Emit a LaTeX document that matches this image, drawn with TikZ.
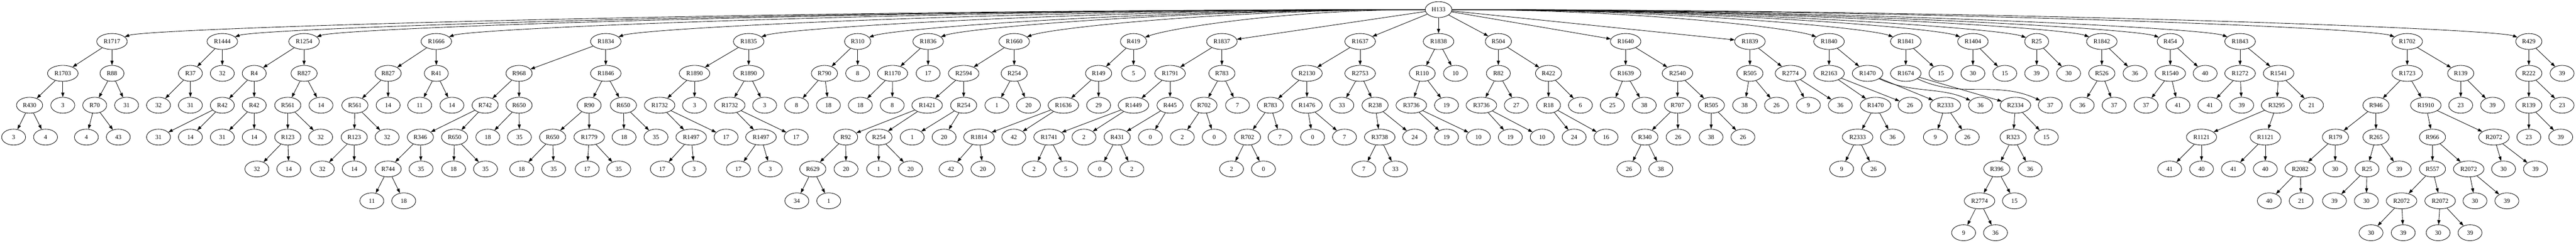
\documentclass[tikz,border=0pt]{standalone}
\usepackage{fontspec}
\setmainfont{Liberation Serif}
\usetikzlibrary{shapes.geometric,arrows.meta}

\tikzset{
  el/.style={draw, ellipse, line width=1pt, minimum width=54pt, minimum height=36pt,
    inner xsep=5.7pt, inner ysep=0pt, font=\fontsize{14pt}{16pt}\selectfont},
  arr/.style={-{Triangle[length=10pt,width=7pt]}, line width=1pt}
}

\begin{document}
\begin{tikzpicture}[x=0.75pt, y=72pt]
  \useasboundingbox (0,0.301) rectangle (7752,-7.314);

  % Wurzel
  \node[el] (h133) at (4329,0) {H133};

  % R1717
  \node[el] (r1717) at (337,-1) {R1717};
  \node[el] (r1703) at (189,-2) {R1703};
  \node[el] (r88) at (337,-2) {R88};
  \node[el] (r430) at (89,-3) {R430};
  \node[el] (r1703r) at (189,-3) {3};
  \node[el] (r70) at (285,-3) {R70};
  \node[el] (r88r) at (381,-3) {31};
  \node[el] (r430l) at (41,-4) {3};
  \node[el] (r430r) at (137,-4) {4};
  \node[el] (r70l) at (260,-4) {4};
  \node[el] (r70r) at (356,-4) {43};
  \path[arr] (r1717) edge (r1703) edge (r88)
    (r1703) edge (r430) edge (r1703r)
    (r88) edge (r70) edge (r88r)
    (r430) edge (r430l) edge (r430r)
    (r70) edge (r70l) edge (r70r);

  % R1444
  \node[el] (r1444) at (669,-1) {R1444};
  \node[el] (r37) at (573,-2) {R37};
  \node[el] (r1444r) at (669,-2) {32};
  \node[el] (r37l) at (477,-3) {32};
  \node[el] (r37r) at (573,-3) {31};
  \path[arr] (r1444) edge (r37) edge (r1444r)
    (r37) edge (r37l) edge (r37r);

  % R1254
  \node[el] (r1254) at (915,-1) {R1254};
  \node[el] (r4) at (765,-2) {R4};
  \node[el] (r827a) at (915,-2) {R827};
  \node[el] (r42a) at (669,-3) {R42};
  \node[el] (r42b) at (765,-3) {R42};
  \node[el] (r561a) at (866,-3) {R561};
  \node[el] (r827ar) at (966,-3) {14};
  \node[el] (r42al) at (477,-4) {31};
  \node[el] (r42ar) at (573,-4) {14};
  \node[el] (r42bl) at (669,-4) {31};
  \node[el] (r42br) at (765,-4) {14};
  \node[el] (r123a) at (866,-4) {R123};
  \node[el] (r561ar) at (965,-4) {32};
  \node[el] (r123al) at (773,-5) {32};
  \node[el] (r123ar) at (869,-5) {14};
  \path[arr] (r1254) edge (r4) edge (r827a)
    (r4) edge (r42a) edge (r42b)
    (r827a) edge (r561a) edge (r827ar)
    (r42a) edge (r42al) edge (r42ar)
    (r42b) edge (r42bl) edge (r42br)
    (r561a) edge (r123a) edge (r561ar)
    (r123a) edge (r123al) edge (r123ar);

  % R1666
  \node[el] (r1666) at (1313,-1) {R1666};
  \node[el] (r827b) at (1168,-2) {R827};
  \node[el] (r41) at (1313,-2) {R41};
  \node[el] (r561b) at (1068,-3) {R561};
  \node[el] (r827br) at (1168,-3) {14};
  \node[el] (r41l) at (1263,-3) {11};
  \node[el] (r41r) at (1360,-3) {14};
  \node[el] (r123b) at (1066,-4) {R123};
  \node[el] (r561br) at (1165,-4) {32};
  \node[el] (r123bl) at (970,-5) {32};
  \node[el] (r123br) at (1066,-5) {14};
  \path[arr] (r1666) edge (r827b) edge (r41)
    (r827b) edge (r561b) edge (r827br)
    (r41) edge (r41l) edge (r41r)
    (r561b) edge (r123b) edge (r561br)
    (r123b) edge (r123bl) edge (r123br);

  % R1834
  \node[el] (r1834) at (1823,-1) {R1834};
  \node[el] (r968) at (1562,-2) {R968};
  \node[el] (r1846) at (1823,-2) {R1846};
  \node[el] (r742) at (1460,-3) {R742};
  \node[el] (r650a) at (1562,-3) {R650};
  \node[el] (r90) at (1773,-3) {R90};
  \node[el] (r650c) at (1876,-3) {R650};
  \node[el] (r346) at (1265,-4) {R346};
  \node[el] (r650b) at (1368,-4) {R650};
  \node[el] (r650al) at (1468,-4) {18};
  \node[el] (r650ar) at (1563,-4) {35};
  \node[el] (r650d) at (1663,-4) {R650};
  \node[el] (r1779) at (1773,-4) {R1779};
  \node[el] (r650cl) at (1878,-4) {18};
  \node[el] (r650cr) at (1974,-4) {35};
  \node[el] (r744) at (1168,-5) {R744};
  \node[el] (r346r) at (1267,-5) {35};
  \node[el] (r650bl) at (1365,-5) {18};
  \node[el] (r650br) at (1461,-5) {35};
  \node[el] (r650dl) at (1570,-5) {18};
  \node[el] (r650dr) at (1666,-5) {35};
  \node[el] (r1779l) at (1767,-5) {17};
  \node[el] (r1779r) at (1862,-5) {35};
  \node[el] (r744l) at (1119,-6) {11};
  \node[el] (r744r) at (1215,-6) {18};
  \path[arr] (r1834) edge (r968) edge (r1846)
    (r968) edge (r742) edge (r650a)
    (r1846) edge (r90) edge (r650c)
    (r742) edge (r346) edge (r650b)
    (r650a) edge (r650al) edge (r650ar)
    (r90) edge (r650d) edge (r1779)
    (r650c) edge (r650cl) edge (r650cr)
    (r346) edge (r744) edge (r346r)
    (r650b) edge (r650bl) edge (r650br)
    (r650d) edge (r650dl) edge (r650dr)
    (r1779) edge (r1779l) edge (r1779r)
    (r744) edge (r744l) edge (r744r);

  % R1835
  \node[el] (r1835) at (2253,-1) {R1835};
  \node[el] (r1890a) at (2090,-2) {R1890};
  \node[el] (r1890b) at (2253,-2) {R1890};
  \node[el] (r1732a) at (1985,-3) {R1732};
  \node[el] (r1890ar) at (2090,-3) {3};
  \node[el] (r1732b) at (2196,-3) {R1732};
  \node[el] (r1890br) at (2301,-3) {3};
  \node[el] (r1497a) at (2080,-4) {R1497};
  \node[el] (r1732ar) at (2185,-4) {17};
  \node[el] (r1497b) at (2290,-4) {R1497};
  \node[el] (r1732br) at (2396,-4) {17};
  \node[el] (r1497al) at (1993,-5) {17};
  \node[el] (r1497ar) at (2089,-5) {3};
  \node[el] (r1497bl) at (2222,-5) {17};
  \node[el] (r1497br) at (2318,-5) {3};
  \path[arr] (r1835) edge (r1890a) edge (r1890b)
    (r1890a) edge (r1732a) edge (r1890ar)
    (r1890b) edge (r1732b) edge (r1890br)
    (r1732a) edge (r1497a) edge (r1732ar)
    (r1732b) edge (r1497b) edge (r1732br)
    (r1497a) edge (r1497al) edge (r1497ar)
    (r1497b) edge (r1497bl) edge (r1497br);

  % R310
  \node[el] (r310) at (2581,-1) {R310};
  \node[el] (r790) at (2481,-2) {R790};
  \node[el] (r310r) at (2581,-2) {8};
  \node[el] (r790l) at (2397,-3) {8};
  \node[el] (r790r) at (2493,-3) {18};
  \path[arr] (r310) edge (r790) edge (r310r)
    (r790) edge (r790l) edge (r790r);

  % R1836
  \node[el] (r1836) at (2793,-1) {R1836};
  \node[el] (r1170) at (2686,-2) {R1170};
  \node[el] (r1836r) at (2793,-2) {17};
  \node[el] (r1170l) at (2589,-3) {18};
  \node[el] (r1170r) at (2685,-3) {8};
  \path[arr] (r1836) edge (r1170) edge (r1836r)
    (r1170) edge (r1170l) edge (r1170r);

  % R1660
  \node[el] (r1660) at (3052,-1) {R1660};
  \node[el] (r2594) at (2900,-2) {R2594};
  \node[el] (r254c) at (3052,-2) {R254};
  \node[el] (r1421) at (2790,-3) {R1421};
  \node[el] (r254a) at (2900,-3) {R254};
  \node[el] (r254cl) at (3000,-3) {1};
  \node[el] (r254cr) at (3095,-3) {20};
  \node[el] (r92) at (2545,-4) {R92};
  \node[el] (r254b) at (2645,-4) {R254};
  \node[el] (r254al) at (2745,-4) {1};
  \node[el] (r254ar) at (2841,-4) {20};
  \node[el] (r629) at (2446,-5) {R629};
  \node[el] (r92r) at (2546,-5) {20};
  \node[el] (r254bl) at (2644,-5) {1};
  \node[el] (r254br) at (2740,-5) {20};
  \node[el] (r629l) at (2398,-6) {34};
  \node[el] (r629r) at (2494,-6) {1};
  \path[arr] (r1660) edge (r2594) edge (r254c)
    (r2594) edge (r1421) edge (r254a)
    (r254c) edge (r254cl) edge (r254cr)
    (r1421) edge (r92) edge (r254b)
    (r254a) edge (r254al) edge (r254ar)
    (r92) edge (r629) edge (r92r)
    (r254b) edge (r254bl) edge (r254br)
    (r629) edge (r629l) edge (r629r);

  % R419
  \node[el] (r419) at (3411,-1) {R419};
  \node[el] (r149) at (3306,-2) {R149};
  \node[el] (r419r) at (3411,-2) {5};
  \node[el] (r1636) at (3200,-3) {R1636};
  \node[el] (r149r) at (3306,-3) {29};
  \node[el] (r1814) at (2946,-4) {R1814};
  \node[el] (r1636r) at (3051,-4) {42};
  \node[el] (r1814l) at (2862,-5) {42};
  \node[el] (r1814r) at (2958,-5) {20};
  \path[arr] (r419) edge (r149) edge (r419r)
    (r149) edge (r1636) edge (r149r)
    (r1636) edge (r1814) edge (r1636r)
    (r1814) edge (r1814l) edge (r1814r);

  % R1837
  \node[el] (r1837) at (3677,-1) {R1837};
  \node[el] (r1791) at (3521,-2) {R1791};
  \node[el] (r783a) at (3677,-2) {R783};
  \node[el] (r1449) at (3411,-3) {R1449};
  \node[el] (r445) at (3521,-3) {R445};
  \node[el] (r702a) at (3623,-3) {R702};
  \node[el] (r783ar) at (3724,-3) {7};
  \node[el] (r1741) at (3157,-4) {R1741};
  \node[el] (r1449r) at (3262,-4) {2};
  \node[el] (r431) at (3362,-4) {R431};
  \node[el] (r445r) at (3462,-4) {0};
  \node[el] (r702al) at (3558,-4) {2};
  \node[el] (r702ar) at (3654,-4) {0};
  \node[el] (r1741l) at (3112,-5) {2};
  \node[el] (r1741r) at (3207,-5) {5};
  \node[el] (r431l) at (3310,-5) {0};
  \node[el] (r431r) at (3406,-5) {2};
  \path[arr] (r1837) edge (r1791) edge (r783a)
    (r1791) edge (r1449) edge (r445)
    (r783a) edge (r702a) edge (r783ar)
    (r1449) edge (r1741) edge (r1449r)
    (r445) edge (r431) edge (r445r)
    (r702a) edge (r702al) edge (r702ar)
    (r1741) edge (r1741l) edge (r1741r)
    (r431) edge (r431l) edge (r431r);

  % R1637
  \node[el] (r1637) at (4093,-1) {R1637};
  \node[el] (r2130) at (3933,-2) {R2130};
  \node[el] (r2753) at (4093,-2) {R2753};
  \node[el] (r783b) at (3823,-3) {R783};
  \node[el] (r1476) at (3933,-3) {R1476};
  \node[el] (r2753l) at (4038,-3) {33};
  \node[el] (r238) at (4138,-3) {R238};
  \node[el] (r702b) at (3754,-4) {R702};
  \node[el] (r783br) at (3852,-4) {7};
  \node[el] (r1476l) at (3950,-4) {0};
  \node[el] (r1476r) at (4046,-4) {7};
  \node[el] (r3738) at (4152,-4) {R3738};
  \node[el] (r238r) at (4257,-4) {24};
  \node[el] (r702bl) at (3706,-5) {2};
  \node[el] (r702br) at (3802,-5) {0};
  \node[el] (r3738l) at (4104,-5) {7};
  \node[el] (r3738r) at (4199,-5) {33};
  \path[arr] (r1637) edge (r2130) edge (r2753)
    (r2130) edge (r783b) edge (r1476)
    (r2753) edge (r2753l) edge (r238)
    (r783b) edge (r702b) edge (r783br)
    (r1476) edge (r1476l) edge (r1476r)
    (r238) edge (r3738) edge (r238r)
    (r702b) edge (r702bl) edge (r702br)
    (r3738) edge (r3738l) edge (r3738r);

  % R1838
  \node[el] (r1838) at (4329,-1) {R1838};
  \node[el] (r110) at (4280,-2) {R110};
  \node[el] (r1838r) at (4380,-2) {10};
  \node[el] (r3736a) at (4247,-3) {R3736};
  \node[el] (r110r) at (4353,-3) {19};
  \node[el] (r3736al) at (4353,-4) {19};
  \node[el] (r3736ar) at (4449,-4) {10};
  \path[arr] (r1838) edge (r110) edge (r1838r)
    (r110) edge (r3736a) edge (r110r)
    (r3736a) edge (r3736al) edge (r3736ar);

  % R504
  \node[el] (r504) at (4509,-1) {R504};
  \node[el] (r82) at (4509,-2) {R82};
  \node[el] (r422) at (4660,-2) {R422};
  \node[el] (r3736b) at (4458,-3) {R3736};
  \node[el] (r82r) at (4563,-3) {27};
  \node[el] (r18) at (4660,-3) {R18};
  \node[el] (r422r) at (4756,-3) {6};
  \node[el] (r3736bl) at (4545,-4) {19};
  \node[el] (r3736br) at (4641,-4) {10};
  \node[el] (r18l) at (4737,-4) {24};
  \node[el] (r18r) at (4833,-4) {16};
  \path[arr] (r504) edge (r82) edge (r422)
    (r82) edge (r3736b) edge (r82r)
    (r422) edge (r18) edge (r422r)
    (r3736b) edge (r3736bl) edge (r3736br)
    (r18) edge (r18l) edge (r18r);

  % R1640
  \node[el] (r1640) at (4892,-1) {R1640};
  \node[el] (r1639) at (4892,-2) {R1639};
  \node[el] (r2540) at (5048,-2) {R2540};
  \node[el] (r1639l) at (4852,-3) {25};
  \node[el] (r1639r) at (4948,-3) {38};
  \node[el] (r707) at (5048,-3) {R707};
  \node[el] (r505a) at (5150,-3) {R505};
  \node[el] (r340) at (4950,-4) {R340};
  \node[el] (r707r) at (5050,-4) {26};
  \node[el] (r505al) at (5149,-4) {38};
  \node[el] (r505ar) at (5245,-4) {26};
  \node[el] (r340l) at (4902,-5) {26};
  \node[el] (r340r) at (4998,-5) {38};
  \path[arr] (r1640) edge (r1639) edge (r2540)
    (r1639) edge (r1639l) edge (r1639r)
    (r2540) edge (r707) edge (r505a)
    (r707) edge (r340) edge (r707r)
    (r505a) edge (r505al) edge (r505ar)
    (r340) edge (r340l) edge (r340r);

  % R1839
  \node[el] (r1839) at (5266,-1) {R1839};
  \node[el] (r505b) at (5266,-2) {R505};
  \node[el] (r2774a) at (5388,-2) {R2774};
  \node[el] (r505bl) at (5250,-3) {38};
  \node[el] (r505br) at (5346,-3) {26};
  \node[el] (r2774al) at (5442,-3) {9};
  \node[el] (r2774ar) at (5538,-3) {36};
  \path[arr] (r1839) edge (r505b) edge (r2774a)
    (r505b) edge (r505bl) edge (r505br)
    (r2774a) edge (r2774al) edge (r2774ar);

  % R1840
  \node[el] (r1840) at (5504,-1) {R1840};
  \node[el] (r2163) at (5504,-2) {R2163};
  \node[el] (r1470a) at (5620,-2) {R1470};
  \node[el] (r1470b) at (5644,-3) {R1470};
  \node[el] (r2163r) at (5748,-3) {26};
  \node[el] (r2333a) at (5854,-3) {R2333};
  \node[el] (r1470ar) at (5960,-3) {36};
  \node[el] (r2333b) at (5590,-4) {R2333};
  \node[el] (r1470br) at (5695,-4) {36};
  \node[el] (r2333al) at (5824,-4) {9};
  \node[el] (r2333ar) at (5920,-4) {26};
  \node[el] (r2333bl) at (5542,-5) {9};
  \node[el] (r2333br) at (5638,-5) {26};
  \path[arr] (r1840) edge (r2163) edge (r1470a)
    (r2163) edge (r1470b) edge (r2163r)
    (r1470a) edge (r2333a)
    (r1470b) edge (r2333b) edge (r1470br)
    (r2333a) edge (r2333al) edge (r2333ar)
    (r2333b) edge (r2333bl) edge (r2333br);
  \draw[arr] (r1470a.-25) .. controls +(-25:80pt) and +(155:75pt) .. (r1470ar.155);

  % R1841
  \node[el] (r1841) at (5735,-1) {R1841};
  \node[el] (r1674) at (5735,-2) {R1674};
  \node[el] (r1841r) at (5841,-2) {15};
  \node[el] (r2334) at (6065,-3) {R2334};
  \node[el] (r1674r) at (6170,-3) {37};
  \node[el] (r323) at (6058,-4) {R323};
  \node[el] (r2334r) at (6158,-4) {15};
  \node[el] (r396) at (6009,-5) {R396};
  \node[el] (r323r) at (6109,-5) {36};
  \node[el] (r2774b) at (5957,-6) {R2774};
  \node[el] (r396r) at (6062,-6) {15};
  \node[el] (r2774bl) at (5909,-7) {9};
  \node[el] (r2774br) at (6005,-7) {36};
  \path[arr] (r1841) edge (r1674) edge (r1841r)
    (r1674) edge (r2334)
    (r2334) edge (r323) edge (r2334r)
    (r323) edge (r396) edge (r323r)
    (r396) edge (r2774b) edge (r396r)
    (r2774b) edge (r2774bl) edge (r2774br);
  \draw[arr] (r1674.-25) .. controls +(-25:110pt) and +(155:110pt) .. (r1674r.155);

  % R1404
  \node[el] (r1404) at (5937,-1) {R1404};
  \node[el] (r1404l) at (5937,-2) {30};
  \node[el] (r1404r) at (6033,-2) {15};
  \path[arr] (r1404) edge (r1404l) edge (r1404r);

  % R25
  \node[el] (r25a) at (6129,-1) {R25};
  \node[el] (r25al) at (6129,-2) {39};
  \node[el] (r25ar) at (6225,-2) {30};
  \path[arr] (r25a) edge (r25al) edge (r25ar);

  % R1842
  \node[el] (r1842) at (6325,-1) {R1842};
  \node[el] (r526) at (6325,-2) {R526};
  \node[el] (r1842r) at (6425,-2) {36};
  \node[el] (r526l) at (6266,-3) {36};
  \node[el] (r526r) at (6362,-3) {37};
  \path[arr] (r1842) edge (r526) edge (r1842r)
    (r526) edge (r526l) edge (r526r);

  % R454
  \node[el] (r454) at (6531,-1) {R454};
  \node[el] (r1540) at (6531,-2) {R1540};
  \node[el] (r454r) at (6636,-2) {40};
  \node[el] (r1540l) at (6458,-3) {37};
  \node[el] (r1540r) at (6554,-3) {41};
  \path[arr] (r454) edge (r1540) edge (r454r)
    (r1540) edge (r1540l) edge (r1540r);

  % R1843
  \node[el] (r1843) at (6741,-1) {R1843};
  \node[el] (r1272) at (6741,-2) {R1272};
  \node[el] (r1541) at (6857,-2) {R1541};
  \node[el] (r1272l) at (6650,-3) {41};
  \node[el] (r1272r) at (6746,-3) {39};
  \node[el] (r3295) at (6851,-3) {R3295};
  \node[el] (r1541r) at (6956,-3) {21};
  \node[el] (r1121a) at (6625,-4) {R1121};
  \node[el] (r1121b) at (6817,-4) {R1121};
  \node[el] (r1121al) at (6529,-5) {41};
  \node[el] (r1121ar) at (6625,-5) {40};
  \node[el] (r1121bl) at (6721,-5) {41};
  \node[el] (r1121br) at (6817,-5) {40};
  \path[arr] (r1843) edge (r1272) edge (r1541)
    (r1272) edge (r1272l) edge (r1272r)
    (r1541) edge (r3295) edge (r1541r)
    (r3295) edge (r1121a) edge (r1121b)
    (r1121a) edge (r1121al) edge (r1121ar)
    (r1121b) edge (r1121bl) edge (r1121br);

  % R1702
  \node[el] (r1702) at (7244,-1) {R1702};
  \node[el] (r1723) at (7244,-2) {R1723};
  \node[el] (r139a) at (7405,-2) {R139};
  \node[el] (r946) at (7150,-3) {R946};
  \node[el] (r1910) at (7300,-3) {R1910};
  \node[el] (r139al) at (7405,-3) {23};
  \node[el] (r139ar) at (7501,-3) {39};
  \node[el] (r179) at (7028,-4) {R179};
  \node[el] (r265) at (7150,-4) {R265};
  \node[el] (r966) at (7320,-4) {R966};
  \node[el] (r2072a) at (7505,-4) {R2072};
  \node[el] (r2082) at (6922,-5) {R2082};
  \node[el] (r179r) at (7027,-5) {30};
  \node[el] (r25b) at (7123,-5) {R25};
  \node[el] (r265r) at (7220,-5) {39};
  \node[el] (r557) at (7320,-5) {R557};
  \node[el] (r2072b) at (7429,-5) {R2072};
  \node[el] (r2072al) at (7534,-5) {30};
  \node[el] (r2072ar) at (7630,-5) {39};
  \node[el] (r2082l) at (6829,-6) {40};
  \node[el] (r2082r) at (6925,-6) {21};
  \node[el] (r25bl) at (7025,-6) {39};
  \node[el] (r25br) at (7121,-6) {30};
  \node[el] (r2072c) at (7227,-6) {R2072};
  \node[el] (r2072d) at (7343,-6) {R2072};
  \node[el] (r2072bl) at (7448,-6) {30};
  \node[el] (r2072br) at (7544,-6) {39};
  \node[el] (r2072cl) at (7135,-7) {30};
  \node[el] (r2072cr) at (7232,-7) {39};
  \node[el] (r2072dl) at (7337,-7) {30};
  \node[el] (r2072dr) at (7433,-7) {39};
  \path[arr] (r1702) edge (r1723) edge (r139a)
    (r1723) edge (r946) edge (r1910)
    (r139a) edge (r139al) edge (r139ar)
    (r946) edge (r179) edge (r265)
    (r1910) edge (r966) edge (r2072a)
    (r179) edge (r2082) edge (r179r)
    (r265) edge (r25b) edge (r265r)
    (r966) edge (r557) edge (r2072b)
    (r2072a) edge (r2072al) edge (r2072ar)
    (r2082) edge (r2082l) edge (r2082r)
    (r25b) edge (r25bl) edge (r25br)
    (r557) edge (r2072c) edge (r2072d)
    (r2072b) edge (r2072bl) edge (r2072br)
    (r2072c) edge (r2072cl) edge (r2072cr)
    (r2072d) edge (r2072dl) edge (r2072dr);

  % R429
  \node[el] (r429) at (7610,-1) {R429};
  \node[el] (r222) at (7610,-2) {R222};
  \node[el] (r429r) at (7710,-2) {39};
  \node[el] (r139b) at (7610,-3) {R139};
  \node[el] (r222r) at (7710,-3) {23};
  \node[el] (r139bl) at (7610,-4) {23};
  \node[el] (r139br) at (7706,-4) {39};
  \path[arr] (r429) edge (r222) edge (r429r)
    (r222) edge (r139b) edge (r222r)
    (r139b) edge (r139bl) edge (r139br);

  % Kanten von der Wurzel
  \draw[arr] (h133.west) .. controls +(-1957,0) and +(20:60pt) .. (r1717.20);
  \draw[arr] (h133.west) .. controls +(-1791,0) and +(20:60pt) .. (r1444.20);
  \draw[arr] (h133.west) .. controls +(-1668,0) and +(20:60pt) .. (r1254.20);
  \draw[arr] (h133.west) .. controls +(-1469,0) and +(20:60pt) .. (r1666.20);
  \draw[arr] (h133.west) .. controls +(-1214,0) and +(20:60pt) .. (r1834.20);
  \draw[arr] (h133.west) .. controls +(-999,0) and +(20:60pt) .. (r1835.20);
  \draw[arr] (h133.west) .. controls +(-837,0) and +(20:60pt) .. (r310.20);
  \draw[arr] (h133.west) .. controls +(-729,0) and +(20:60pt) .. (r1836.20);
  \draw[arr] (h133.west) .. controls +(-600,0) and +(20:60pt) .. (r1660.20);
  \draw[arr] (h133.west) .. controls +(-422,0) and +(20:60pt) .. (r419.20);
  \path[arr] (h133) edge (r1837) edge (r1637) edge (r1838)
    edge (r504) edge (r1640) edge (r1839);
  \draw[arr] (h133.east) .. controls +(548,0) and +(160:60pt) .. (r1840.160);
  \draw[arr] (h133.east) .. controls +(664,0) and +(160:60pt) .. (r1841.160);
  \draw[arr] (h133.east) .. controls +(765,0) and +(160:60pt) .. (r1404.160);
  \draw[arr] (h133.east) .. controls +(864,0) and +(160:60pt) .. (r25a.160);
  \draw[arr] (h133.east) .. controls +(959,0) and +(160:60pt) .. (r1842.160);
  \draw[arr] (h133.east) .. controls +(1064,0) and +(160:60pt) .. (r454.160);
  \draw[arr] (h133.east) .. controls +(1167,0) and +(160:60pt) .. (r1843.160);
  \draw[arr] (h133.east) .. controls +(1418,0) and +(160:60pt) .. (r1702.160);
  \draw[arr] (h133.east) .. controls +(1603,0) and +(160:60pt) .. (r429.160);
\end{tikzpicture}
\end{document}
